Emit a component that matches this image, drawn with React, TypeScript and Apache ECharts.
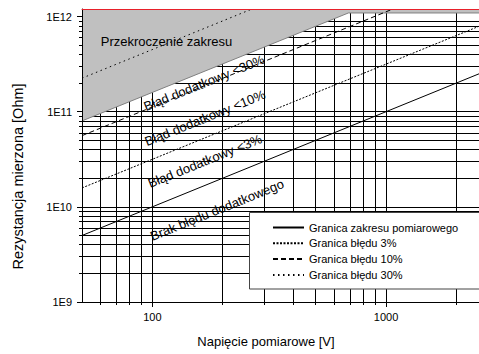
import { useEffect, useRef } from 'react';
import * as echarts from 'echarts';

const FONT = '"Liberation Sans", Arial, Helvetica, sans-serif';

// Axis ranges
const voltageRange = [50, 2500];
const resistanceRange = [1e9, 1.2e12];

// Tick values
const xMajorTicks = [100, 1000];
const xMinorTicks = [60, 70, 80, 90, 200, 300, 400, 500, 600, 700, 800, 900, 2000];
const yMajorTicks = [1e9, 1e10, 1e11, 1e12];
const yMinorTicks = [
  2e9, 3e9, 4e9, 5e9, 6e9, 7e9, 8e9, 9e9,
  2e10, 3e10, 4e10, 5e10, 6e10, 7e10, 8e10, 9e10,
  2e11, 3e11, 4e11, 5e11, 6e11, 7e11, 8e11, 9e11,
];
const yGridExtra = [1e10, 1e11];

// Series (voltage U [V], resistance R [Ohm])
const rangeLimitU = [50, 2500];
const rangeLimitR = [5e9, 2.5e11];
const err3U = [50, 2500];
const err3R = [1.58e10, 7.9e11];
const err10U = [50, 1070];
const err10R = [5.6e10, 1.2e12];
const err30U = [50, 267];
const err30R = [2.25e11, 1.2e12];
const overU = [50, 690, 2500];
const overR = [8e10, 1.09e12, 1.09e12];

const seriesNames = [
  'Granica zakresu pomiarowego',
  'Granica błędu 3%',
  'Granica błędu 10%',
  'Granica błędu 30%',
];

const zip = (a: number[], b: number[]) => a.map((v, i) => [v, b[i]]);

const ANGLE = (22 * Math.PI) / 180;

function label(text: string, x: number, y: number, rotation = 0, size = 13) {
  return {
    type: 'text',
    x,
    y,
    rotation,
    z: 4,
    silent: true,
    style: {
      text,
      fill: '#000',
      fontSize: size,
      fontFamily: FONT,
      align: 'center',
      verticalAlign: 'middle',
      textAlign: 'center',
      textVerticalAlign: 'middle',
    },
  };
}

export default function App() {
  const ref = useRef<HTMLDivElement>(null);

  useEffect(() => {
    if (!ref.current) return;
    const chart = echarts.init(ref.current, undefined, { renderer: 'svg' });

    const baseX = {
      type: 'log',
      logBase: 10,
      min: voltageRange[0],
      max: voltageRange[1],
      gridIndex: 0,
    };
    const baseY = {
      type: 'log',
      logBase: 10,
      min: resistanceRange[0],
      max: resistanceRange[1],
      gridIndex: 0,
    };

    const lineSeries = (name: string, u: number[], r: number[], type: any) => ({
      name,
      type: 'line',
      xAxisIndex: 0,
      yAxisIndex: 0,
      data: zip(u, r),
      symbol: 'none',
      silent: true,
      z: 3,
      lineStyle: { color: '#000', width: 1, type },
      itemStyle: { color: '#000' },
    });

    const option: any = {
      animation: false,
      backgroundColor: '#fff',
      grid: {
        left: 82,
        top: 9,
        right: 0,
        bottom: 52,
        containLabel: false,
        outerBoundsMode: 'none',
      },
      xAxis: [
        {
          ...baseX,
          position: 'bottom',
          z: 10,
          axisLine: { show: true, lineStyle: { color: '#000', width: 1 } },
          axisTick: {
            show: true,
            length: 5,
            inside: false,
            customValues: xMajorTicks,
            lineStyle: { color: '#000' },
          },
          axisLabel: {
            show: true,
            customValues: xMajorTicks,
            margin: 9,
            color: '#000',
            fontSize: 11,
            fontFamily: FONT,
            formatter: (v: number) => String(Math.round(v)),
          },
          splitLine: { show: false },
        },
        {
          ...baseX,
          position: 'bottom',
          axisLine: { show: false },
          axisTick: {
            show: true,
            length: 3,
            customValues: [...xMinorTicks, ...xMajorTicks],
            lineStyle: { color: '#000' },
          },
          axisLabel: { show: false },
          splitLine: { show: true, lineStyle: { color: '#000', width: 1 } },
        },
        {
          ...baseX,
          position: 'top',
          z: 10,
          axisLine: { show: true, lineStyle: { color: '#e8202a', width: 1 } },
          axisTick: { show: false },
          axisLabel: { show: false },
          splitLine: { show: false },
        },
      ],
      yAxis: [
        {
          ...baseY,
          position: 'left',
          z: 10,
          axisLine: { show: true, lineStyle: { color: '#000', width: 1 } },
          axisTick: {
            show: true,
            length: 5,
            customValues: yMajorTicks,
            lineStyle: { color: '#000' },
          },
          axisLabel: {
            show: true,
            customValues: yMajorTicks,
            margin: 10,
            color: '#000',
            fontSize: 11,
            fontFamily: FONT,
            formatter: (v: number) => '1E' + Math.round(Math.log10(v)),
          },
          splitLine: { show: false },
        },
        {
          ...baseY,
          position: 'left',
          axisLine: { show: false },
          axisTick: {
            show: true,
            length: 3,
            customValues: [...yMinorTicks, ...yGridExtra],
            lineStyle: { color: '#000' },
          },
          axisLabel: { show: false },
          splitLine: { show: true, lineStyle: { color: '#000', width: 1 } },
        },
      ],
      legend: {
        data: seriesNames,
        orient: 'vertical',
        left: 272,
        top: 222,
        itemWidth: 31,
        itemHeight: 11,
        itemGap: 4.8,
        selectedMode: false,
        z: 6,
        padding: 0,
        itemStyle: { opacity: 0, borderWidth: 0 },
        textStyle: { fontSize: 11, fontFamily: FONT, color: '#000' },
      },
      graphic: [
        {
          type: 'rect',
          z: 5,
          silent: true,
          shape: { x: 249.5, y: 212.5, width: 260, height: 76.5 },
          style: { fill: '#fff', stroke: '#444', lineWidth: 1 },
        },
        label('Przekroczenie zakresu', 166.5, 41),
        label('Błąd dodatkowy <30%', 204, 83, ANGLE),
        label('Błąd dodatkowy <10%', 205, 118, ANGLE),
        label('Błąd dodatkowy <3%', 205, 161, ANGLE),
        label('Brak błędu dodatkowego', 217, 210, ANGLE),
        label('Napięcie pomiarowe [V]', 266, 341, 0, 13),
        label('Rezystancja mierzona [Ohm]', 18, 176.5, Math.PI / 2, 14.5),
      ],
      series: [
        {
          name: 'Przekroczenie zakresu',
          type: 'line',
          xAxisIndex: 0,
          yAxisIndex: 0,
          data: zip(overU, overR),
          symbol: 'none',
          silent: true,
          z: 1,
          lineStyle: { color: '#808080', width: 1 },
          areaStyle: { color: '#c0c0c0', opacity: 1, origin: 'end' },
        },
        lineSeries(seriesNames[0], rangeLimitU, rangeLimitR, 'solid'),
        lineSeries(seriesNames[1], err3U, err3R, [2, 1.5]),
        lineSeries(seriesNames[2], err10U, err10R, [5, 3]),
        lineSeries(seriesNames[3], err30U, err30R, [1.5, 3.5]),
      ],
    };

    chart.setOption(option);
    return () => chart.dispose();
  }, []);

  return (
    <div
      ref={ref}
      style={{ position: 'fixed', left: 0, top: 0, width: 479, height: 354 }}
    />
  );
}
